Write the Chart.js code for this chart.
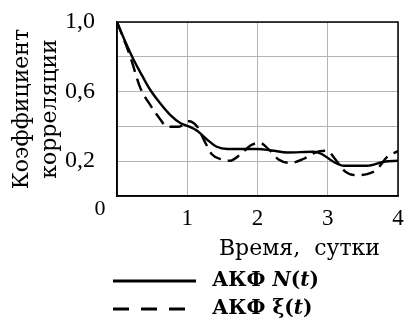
<!DOCTYPE html>
<html>
<head>
<meta charset="utf-8">
<script src="https://cdn.jsdelivr.net/npm/chart.js@4/dist/chart.umd.min.js"></script>
<style>
  html, body { margin: 0; padding: 0; background: #fff; }
  #wrap { width: 405px; height: 324px; position: relative; }
</style>
</head>
<body>
<div id="wrap"><canvas id="c" width="405" height="324"></canvas></div>
<script>
// Time lag, days
const daysN = [0, 0.12, 0.24, 0.36, 0.47, 0.62, 0.76, 0.90, 1.02, 1.14, 1.28, 1.42, 1.57, 1.99, 2.23, 2.42, 2.80, 2.92, 3.08, 3.23, 3.56, 3.80, 4.0];
// Autocorrelation of N(t)
const acfN = [1.0, 0.885, 0.78, 0.69, 0.612, 0.53, 0.465, 0.42, 0.40, 0.375, 0.325, 0.283, 0.27, 0.27, 0.26, 0.25, 0.254, 0.24, 0.197, 0.174, 0.174, 0.197, 0.203];

const daysXi = [0, 0.19, 0.33, 0.475, 0.617, 0.71, 0.88, 1.02, 1.14, 1.24, 1.35, 1.49, 1.61, 1.76, 1.90, 2.03, 2.16, 2.30, 2.47, 2.66, 2.82, 2.99, 3.11, 3.25, 3.39, 3.56, 3.70, 3.84, 4.0];
// Autocorrelation of ξ(t)
const acfXi = [1.0, 0.80, 0.623, 0.522, 0.44, 0.398, 0.398, 0.43, 0.40, 0.32, 0.24, 0.21, 0.203, 0.24, 0.29, 0.306, 0.268, 0.21, 0.19, 0.214, 0.25, 0.26, 0.21, 0.14, 0.12, 0.126, 0.153, 0.222, 0.258];

const xTicks = [1, 2, 3, 4];
const yTickLabels = { '0.2': '0,2', '0.6': '0,6', '1': '1,0' };
const seriesLabels = ['АКФ N(t)', 'АКФ ξ(t)'];
const xTitle = 'Время,  сутки';
const yTitle = ['Коэффициент', 'корреляции'];

const toPoints = (xs, ys) => xs.map((x, i) => ({ x: x, y: ys[i] }));

// keep the plot box exactly where the layout padding puts it
const noOverflow = s => { s.paddingTop = 0; s.paddingBottom = 0; s.paddingLeft = 0; s.paddingRight = 0; };

// Frame, origin label, x-axis caption and legend drawn on the canvas
const extras = {
  id: 'extras',
  afterDraw(chart) {
    const { ctx, chartArea: a, scales } = chart;
    ctx.save();
    ctx.strokeStyle = '#000';
    ctx.lineWidth = 1.5;
    ctx.strokeRect(a.left, a.top, a.right - a.left, a.bottom - a.top);

    // origin label
    ctx.fillStyle = '#000';
    ctx.font = '22px "Liberation Serif"';
    ctx.textAlign = 'center';
    ctx.textBaseline = 'middle';
    ctx.fillText('0', scales.x.getPixelForValue(0) - 17, scales.y.getPixelForValue(0) + 13);

    // x-axis caption
    ctx.font = '22px "DejaVu Serif"';
    ctx.textAlign = 'right';
    ctx.textBaseline = 'alphabetic';
    ctx.fillText(xTitle, 380, 255);

    // legend
    const rows = [281, 309];
    chart.data.datasets.forEach((ds, i) => {
      const y = rows[i];
      ctx.beginPath();
      ctx.lineWidth = 3.2;
      ctx.strokeStyle = '#000';
      ctx.setLineDash(ds.borderDash && ds.borderDash.length ? [16, 12] : []);
      ctx.moveTo(113, y);
      ctx.lineTo(196, y);
      ctx.stroke();
      ctx.setLineDash([]);

      // label: prefix upright, variable names italic
      const label = ds.label;
      const sp = label.indexOf(' ');
      const parts = [[label.slice(0, sp + 1), false]];
      for (const ch of label.slice(sp + 1)) {
        parts.push([ch, /[A-Za-z]/.test(ch)]);
      }
      let x = 212;
      ctx.textAlign = 'left';
      ctx.textBaseline = 'middle';
      parts.forEach(([t, it]) => {
        ctx.font = (it ? 'italic ' : '') + 'bold 20px "DejaVu Serif"';
        ctx.fillText(t, x, y);
        x += ctx.measureText(t).width;
      });
    });
    ctx.restore();
  }
};

new Chart(document.getElementById('c'), {
  type: 'line',
  data: {
    datasets: [
      {
        label: seriesLabels[0],
        data: toPoints(daysN, acfN),
        borderColor: '#000',
        borderWidth: 2.4,
        pointRadius: 0,
        cubicInterpolationMode: 'monotone',
        fill: false
      },
      {
        label: seriesLabels[1],
        data: toPoints(daysXi, acfXi),
        borderColor: '#000',
        borderWidth: 2.4,
        borderDash: [13, 7],
        pointRadius: 0,
        cubicInterpolationMode: 'monotone',
        fill: false
      }
    ]
  },
  options: {
    responsive: false,
    animation: false,
    layout: { padding: { top: 22, right: 7, left: 0, bottom: 0 } },
    plugins: { legend: { display: false }, tooltip: { enabled: false } },
    scales: {
      x: {
        type: 'linear',
        min: 0,
        max: 4,
        afterFit(s) { s.height = 128; noOverflow(s); },
        afterBuildTicks(s) { s.ticks = [0].concat(xTicks).map(v => ({ value: v })); },
        ticks: {
          color: '#000',
          padding: 9,
          font: { family: 'Liberation Serif', size: 23 },
          callback: v => (v === 0 ? '' : String(v))
        },
        grid: { color: '#b4b4b4', lineWidth: 1, drawTicks: false },
        border: { color: '#000', width: 1.5 }
      },
      y: {
        min: 0,
        max: 1,
        afterFit(s) { s.width = 117; noOverflow(s); },
        ticks: {
          stepSize: 0.2,
          color: '#000',
          padding: 22,
          font: { family: 'Liberation Serif', size: 24 },
          callback: v => yTickLabels[String(Math.round(v * 10) / 10)] || ''
        },
        grid: { color: '#b4b4b4', lineWidth: 1, drawTicks: false },
        border: { color: '#000', width: 1.5 },
        title: {
          display: true,
          text: yTitle,
          color: '#000',
          font: { family: 'DejaVu Serif', size: 22, lineHeight: 1.27 },
          padding: { top: 8, bottom: 0 }
        }
      }
    }
  },
  plugins: [extras]
});
</script>
</body>
</html>
